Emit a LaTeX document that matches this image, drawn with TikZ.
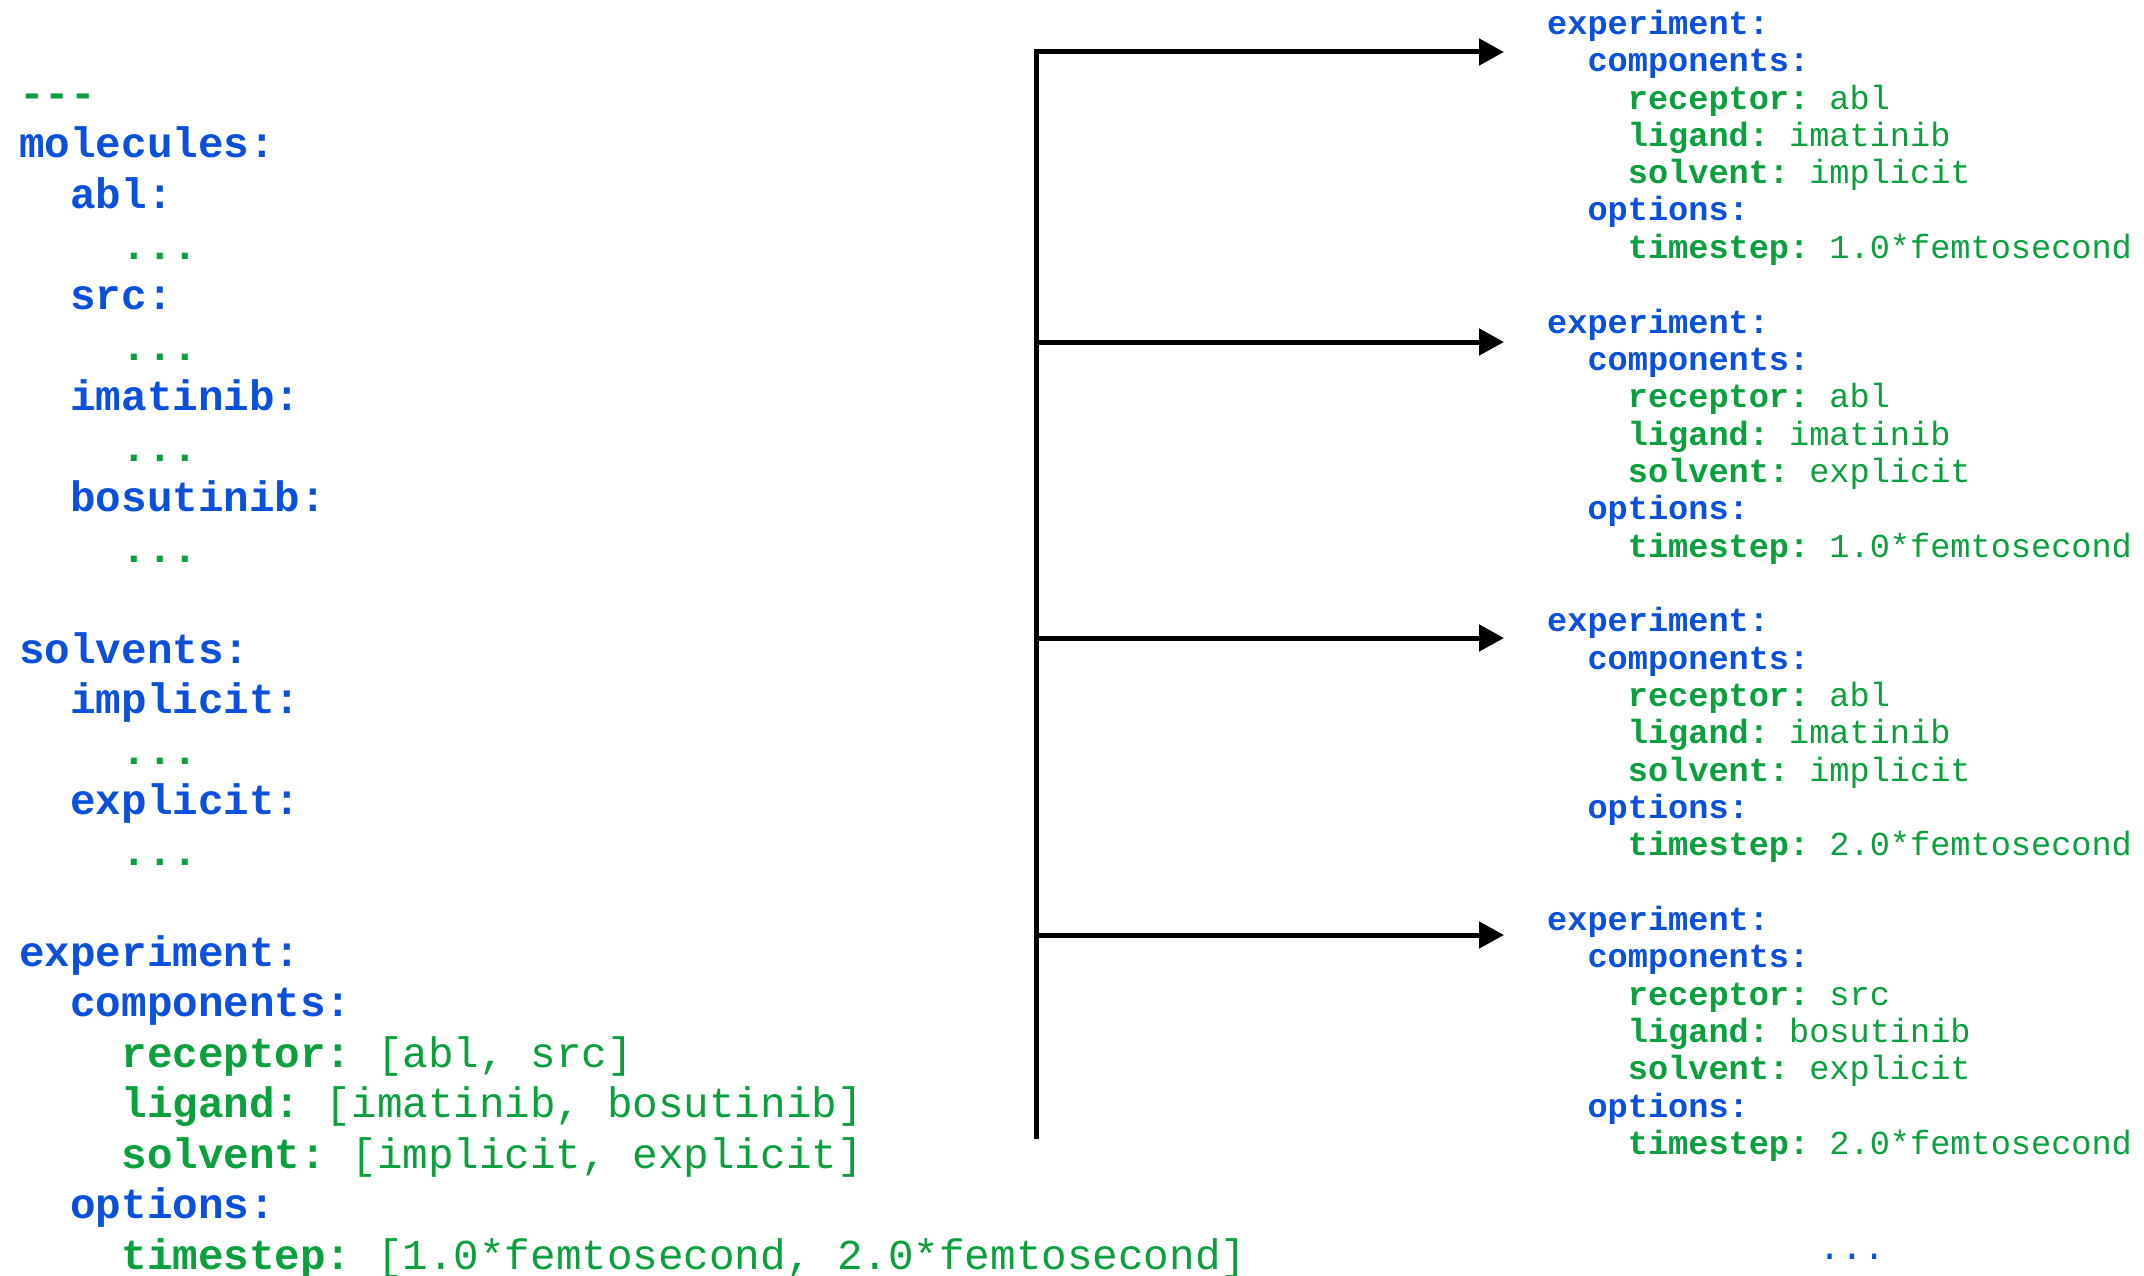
\documentclass[tikz,border=0pt]{standalone}
\usepackage{fontspec}
\newfontfamily\ymono{Liberation Mono}
\usetikzlibrary{arrows.meta}
\definecolor{yblue}{RGB}{10,80,220}
\definecolor{ygreen}{RGB}{10,160,62}
\newcommand\kb[1]{\textcolor{yblue}{\bfseries #1}}
\newcommand\kg[1]{\textcolor{ygreen}{\bfseries #1}}
\newcommand\vg[1]{\textcolor{ygreen}{#1}}
\tikzset{
  lline/.style={anchor=base west, inner sep=0pt, font=\ymono\fontsize{42.6}{50.5}\selectfont},
  rline/.style={anchor=base west, inner sep=0pt, font=\ymono\fontsize{33.6}{37.3}\selectfont},
  conn/.style={line width=5pt, black},
  tipped/.style={-{Triangle[length=25pt,width=26pt]}},
}
\newcommand\LL[4]{\node[lline] (#1) at ({19+25.56*#2},{107.5+50.5*#3}) {#4};}
\newcommand\RL[5]{\node[rline] (#1) at ({1547+20.16*#2},{#3+37.3*#4}) {#5};}
\newcommand\Block[6]{%
  \RL{#1-0}{0}{#2}{0}{\kb{experiment:}}
  \RL{#1-1}{2}{#2}{1}{\kb{components:}}
  \RL{#1-2}{4}{#2}{2}{\kg{receptor:}\ \vg{#3}}
  \RL{#1-3}{4}{#2}{3}{\kg{ligand:}\ \vg{#4}}
  \RL{#1-4}{4}{#2}{4}{\kg{solvent:}\ \vg{#5}}
  \RL{#1-5}{2}{#2}{5}{\kb{options:}}
  \RL{#1-6}{4}{#2}{6}{\kg{timestep:}\ \vg{#6*femtosecond}}
}
\begin{document}
\begin{tikzpicture}[x=1pt,y=-1pt]
\useasboundingbox[fill=white] (0,0) rectangle (2144,1276);
% left YAML
\LL{l0}{0}{0}{\kg{-{}-{}-}}
\LL{l1}{0}{1}{\kb{molecules:}}
\LL{l2}{2}{2}{\kb{abl:}}
\LL{l3}{4}{3}{\kg{...}}
\LL{l4}{2}{4}{\kb{src:}}
\LL{l5}{4}{5}{\kg{...}}
\LL{l6}{2}{6}{\kb{imatinib:}}
\LL{l7}{4}{7}{\kg{...}}
\LL{l8}{2}{8}{\kb{bosutinib:}}
\LL{l9}{4}{9}{\kg{...}}
\LL{l11}{0}{11}{\kb{solvents:}}
\LL{l12}{2}{12}{\kb{implicit:}}
\LL{l13}{4}{13}{\kg{...}}
\LL{l14}{2}{14}{\kb{explicit:}}
\LL{l15}{4}{15}{\kg{...}}
\LL{l17}{0}{17}{\kb{experiment:}}
\LL{l18}{2}{18}{\kb{components:}}
\LL{l19}{4}{19}{\kg{receptor:}\ \vg{[abl, src]}}
\LL{l20}{4}{20}{\kg{ligand:}\ \vg{[imatinib, bosutinib]}}
\LL{l21}{4}{21}{\kg{solvent:}\ \vg{[implicit, explicit]}}
\LL{l22}{2}{22}{\kb{options:}}
\LL{l23}{4}{23}{\kg{timestep:}\ \vg{[1.0*femtosecond, 2.0*femtosecond]}}
% right experiments
\Block{ba}{34.5}{abl}{imatinib}{implicit}{1.0}
\Block{bb}{333.2}{abl}{imatinib}{explicit}{1.0}
\Block{bc}{631.9}{abl}{imatinib}{implicit}{2.0}
\Block{bd}{930.6}{src}{bosutinib}{explicit}{2.0}
\node[anchor=base, inner sep=0pt, font=\ymono\fontsize{37}{44}\selectfont, text=yblue] (more) at (1852,1259) {...};
% connectors
\coordinate (trunkbot) at (1036,1139);
\coordinate (j1) at (1036,52);
\coordinate (j2) at (1036,342);
\coordinate (j3) at (1036,638);
\coordinate (j4) at (1036,935);
\coordinate (t1) at (1504,52);
\coordinate (t2) at (1504,342);
\coordinate (t3) at (1504,638);
\coordinate (t4) at (1504,935);
\draw[conn, tipped, line join=miter] (trunkbot) -- (j1) -- (t1);
\draw[conn, tipped] (j2) -- (t2);
\draw[conn, tipped] (j3) -- (t3);
\draw[conn, tipped] (j4) -- (t4);
\end{tikzpicture}
\end{document}
